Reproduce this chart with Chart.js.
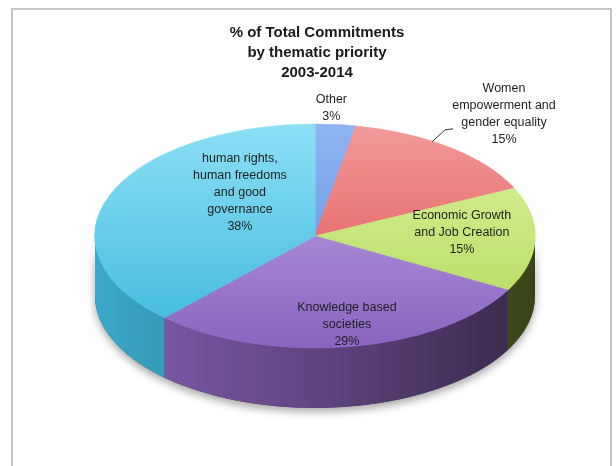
<!DOCTYPE html>
<html>
<head>
<meta charset="utf-8">
<script src="https://cdn.jsdelivr.net/npm/chart.js@4"></script>
<style>
  html, body { margin: 0; padding: 0; background: #fff; }
  canvas { display: block; }
</style>
</head>
<body>
<canvas id="myChart" width="616" height="466"></canvas>
<script>
// data
const titleLines = ['% of Total Commitments', 'by thematic priority', '2003-2014'];
const categories = [
  'Other',
  'Women empowerment and gender equality',
  'Economic Growth and Job Creation',
  'Knowledge based societies',
  'human rights, human freedoms and good governance'
];
const shares = [3, 15, 15, 29, 38];
const labelLines = [
  ['Other'],
  ['Women', 'empowerment and', 'gender equality'],
  ['Economic Growth', 'and Job Creation'],
  ['Knowledge based', 'societies'],
  ['human rights,', 'human freedoms', 'and good', 'governance']
];

// colours: top face [light, dark] and side wall
const topColors = [
  ['#8fb4f2', '#5b8ee2'],
  ['#f29a9a', '#e04a4a'],
  ['#ddf2a0', '#b0da58'],
  ['#c3a8e8', '#8a64c0'],
  ['#8ce0f5', '#3cb8da']
];
const sideColors = ['#4a78c8', '#b83c3c', '#8ca83a', '#8a62b8', '#3cb0d2'];

// where the tilted pie sits on the page
const X = 315, Y = 236, RX = 220, RY = 112, DEPTH = 60;
// label placement: fraction of radius along mid angle, plus a nudge
const labelPos = [
  { f: 1.13, dx: -7, dy: -2 },
  { f: 1.335, dx: 9, dy: -4 },
  { f: 0.668, dx: 0, dy: -6 },
  { f: 0.84, dx: 3, dy: -4 },
  { f: 0.367, dx: 0, dy: -28 }
];
const FONT = '"Liberation Sans", Arial, sans-serif';

function faceFill(c) {
  const chart = c.chart, a = chart.chartArea;
  const pair = topColors[c.dataIndex];
  if (!a) return pair[1];
  const cy = (a.top + a.bottom) / 2;
  const r = Math.min(a.right - a.left, a.bottom - a.top) / 2;
  const g = chart.ctx.createLinearGradient(0, cy - r, 0, cy + r);
  g.addColorStop(0, pair[0]);
  g.addColorStop(1, pair[1]);
  return g;
}

function wallPath(ctx, s, e) {
  ctx.beginPath();
  ctx.ellipse(X, Y, RX, RY, 0, s, e, false);
  ctx.ellipse(X, Y + DEPTH, RX, RY, 0, e, s, true);
  ctx.closePath();
}

// frame round the picture
const frame = {
  id: 'frame',
  beforeDraw(chart) {
    const ctx = chart.ctx;
    ctx.save();
    ctx.fillStyle = '#fff';
    ctx.fillRect(0, 0, chart.width, chart.height);
    ctx.strokeStyle = '#c4c4c4';
    ctx.lineWidth = 2;
    ctx.strokeRect(12, 9, 599, 480);
    ctx.restore();
  }
};

// squash the pie into an ellipse and give it a side wall
const tilt = {
  id: 'tilt',
  beforeDatasetsDraw(chart) {
    const ctx = chart.ctx;
    const arcs = chart.getDatasetMeta(0).data;

    // soft shadow under the disc
    ctx.save();
    ctx.shadowColor = 'rgba(0,0,0,0.35)';
    ctx.shadowBlur = 8;
    ctx.shadowOffsetY = 4;
    wallPath(ctx, 0, Math.PI);
    ctx.fillStyle = '#444';
    ctx.fill();
    ctx.restore();

    const shade = ctx.createLinearGradient(X - RX, 0, X + RX, 0);
    shade.addColorStop(0, 'rgba(0,0,0,0.04)');
    shade.addColorStop(0.5, 'rgba(0,0,0,0.3)');
    shade.addColorStop(1, 'rgba(0,0,0,0.6)');

    arcs.forEach((el, i) => {
      const s = Math.max(el.startAngle, 0);
      const e = Math.min(el.endAngle, Math.PI);
      if (e <= s) return;
      wallPath(ctx, s, e);
      ctx.fillStyle = sideColors[i];
      ctx.fill();
      ctx.fillStyle = shade;
      ctx.fill();
    });

    const el = arcs[0];
    ctx.save();
    ctx.translate(X, Y);
    ctx.scale(RX / el.outerRadius, RY / el.outerRadius);
    ctx.translate(-el.x, -el.y);
  },
  afterDatasetsDraw(chart) {
    chart.ctx.restore();
  },
  afterDraw(chart) {
    const ctx = chart.ctx;
    const arcs = chart.getDatasetMeta(0).data;
    ctx.save();
    ctx.font = '12.5px ' + FONT;
    ctx.fillStyle = '#1e1e1e';
    ctx.textAlign = 'center';
    ctx.textBaseline = 'middle';
    arcs.forEach((el, i) => {
      const mid = (el.startAngle + el.endAngle) / 2;
      const p = labelPos[i];
      const cx = X + RX * p.f * Math.cos(mid) + p.dx;
      const cy = Y + RY * p.f * Math.sin(mid) + p.dy;
      const lines = labelLines[i].concat(shares[i] + '%');
      const lh = 17;
      const y0 = cy - (lines.length - 1) * lh / 2;
      lines.forEach((t, k) => ctx.fillText(t, cx, y0 + k * lh));
      if (i === 1) {
        // leader line to the slice
        ctx.strokeStyle = '#333';
        ctx.lineWidth = 1;
        ctx.beginPath();
        ctx.moveTo(cx - 72, cy + 28);
        ctx.lineTo(cx - 59, cy + 16);
        ctx.lineTo(cx - 51, cy + 15);
        ctx.stroke();
      }
    });
    ctx.restore();
  }
};

const data = {
  labels: categories,
  datasets: [{
    data: shares,
    backgroundColor: faceFill,
    borderColor: faceFill,
    borderWidth: 1
  }]
};

const config = {
  type: 'pie',
  data,
  options: {
    responsive: false,
    animation: false,
    devicePixelRatio: 1,
    layout: { padding: { left: 18 } },
    plugins: {
      legend: { display: false },
      tooltip: { enabled: false },
      title: {
        display: true,
        text: titleLines,
        color: '#1a1a1a',
        font: { family: FONT, size: 15, weight: 'bold', lineHeight: 1.33 },
        padding: { top: 23, bottom: 10 }
      }
    }
  },
  plugins: [frame, tilt]
};

const myChart = new Chart(document.getElementById('myChart'), config);
</script>
</body>
</html>
